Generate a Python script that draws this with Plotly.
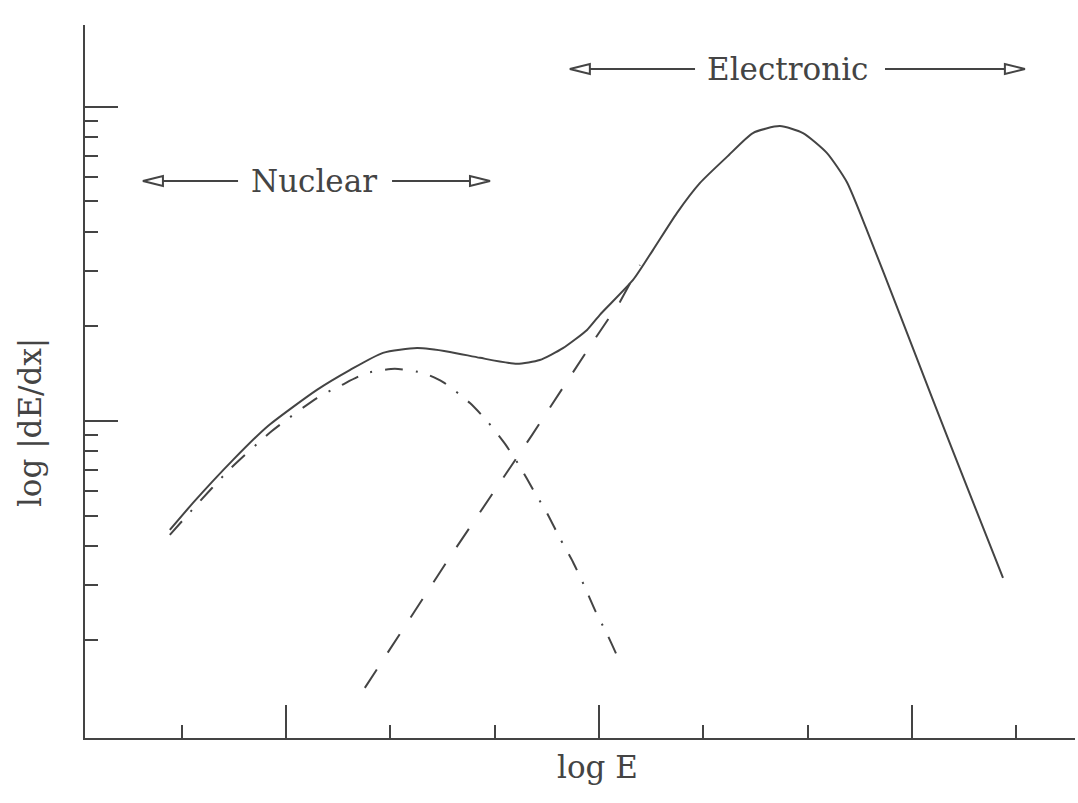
import math
import plotly.graph_objects as go

# log E (axis units, major ticks at 1, 2, 3)
total_x = [0.629, 0.703, 0.831, 0.939, 1.099, 1.204, 1.310, 1.419, 1.524, 1.620,
           1.738, 1.811, 1.885, 1.962, 2.003, 2.109, 2.173, 2.249, 2.323, 2.409,
           2.492, 2.578, 2.652, 2.728, 2.792, 2.856, 2.962, 3.067, 3.176, 3.291]
# log |dE/dx|
total_y = [-0.347, -0.261, -0.124, -0.019, 0.099, 0.162, 0.217, 0.232, 0.220, 0.201,
           0.182, 0.194, 0.232, 0.290, 0.338, 0.449, 0.545, 0.662, 0.758, 0.841,
           0.917, 0.939, 0.917, 0.854, 0.761, 0.608, 0.338, 0.067, -0.210, -0.500]

nuclear_x = [0.629, 0.703, 0.821, 0.955, 1.099, 1.179, 1.259, 1.348, 1.438, 1.502,
             1.588, 1.645, 1.700, 1.748, 1.792, 1.834, 1.875, 1.917, 1.955, 1.990,
             2.029, 2.067]
nuclear_y = [-0.363, -0.280, -0.153, -0.032, 0.073, 0.115, 0.153, 0.166, 0.153, 0.124,
             0.057, -0.003, -0.073, -0.146, -0.223, -0.293, -0.373, -0.449, -0.529, -0.608,
             -0.685, -0.768]

electronic_x = [1.252, 1.524, 1.786, 1.978, 2.067, 2.131]
electronic_y = [-0.850, -0.433, -0.045, 0.248, 0.379, 0.497]

x_major = [1, 2, 3]
x_minor = [2 / 3, 4 / 3, 5 / 3, 7 / 3, 8 / 3, 10 / 3]
y_major = [0, 1]
y_minor = [d + math.log10(k) for d in (-1, 0) for k in range(2, 10)]

region_labels = ["Nuclear", "Electronic"]
region_start = [0.543, 1.907]
region_end = [1.652, 3.361]
region_level = [0.764, 1.121]
region_text_x = [1.089, 2.604]
region_gap = [(0.847, 1.339), (2.307, 2.914)]

INK = "#444444"
FONT = "DejaVu Serif"

fig = go.Figure()
fig.add_trace(go.Scatter(x=total_x, y=total_y, mode="lines",
                         line=dict(color=INK, width=2, shape="spline", smoothing=0.6),
                         hoverinfo="skip"))
fig.add_trace(go.Scatter(x=nuclear_x, y=nuclear_y, mode="lines",
                         line=dict(color=INK, width=2, shape="spline", smoothing=0.6,
                                   dash="18px,13px,2px,13px"),
                         hoverinfo="skip"))
fig.add_trace(go.Scatter(x=electronic_x, y=electronic_y, mode="lines",
                         line=dict(color=INK, width=2, dash="22px,20px"),
                         hoverinfo="skip"))

shapes = []
head_len = 0.064
head_h = 0.016
for lab, x0, x1, yv, tx, (g0, g1) in zip(region_labels, region_start, region_end,
                                         region_level, region_text_x, region_gap):
    shapes.append(dict(type="line", x0=x0 + head_len, x1=g0, y0=yv, y1=yv,
                       line=dict(color=INK, width=2)))
    shapes.append(dict(type="line", x0=g1, x1=x1 - head_len, y0=yv, y1=yv,
                       line=dict(color=INK, width=2)))
    shapes.append(dict(type="path",
                       path=f"M {x0},{yv} L {x0 + head_len},{yv + head_h} L {x0 + head_len},{yv - head_h} Z",
                       line=dict(color=INK, width=2), fillcolor="white"))
    shapes.append(dict(type="path",
                       path=f"M {x1},{yv} L {x1 - head_len},{yv + head_h} L {x1 - head_len},{yv - head_h} Z",
                       line=dict(color=INK, width=2), fillcolor="white"))
    fig.add_annotation(x=tx, y=yv, text=lab, showarrow=False,
                       font=dict(family=FONT, size=31, color=INK),
                       xanchor="center", yanchor="middle")

fig.add_annotation(text="log E", xref="paper", yref="paper", x=0.518, y=-0.041,
                   showarrow=False, xanchor="center", yanchor="middle",
                   font=dict(family=FONT, size=31, color=INK))
fig.add_annotation(text="log |dE/dx|", xref="paper", yref="paper", x=-0.0556, y=0.443,
                   showarrow=False, textangle=-90, xanchor="center", yanchor="middle",
                   font=dict(family=FONT, size=31, color=INK))

fig.update_layout(
    width=1078, height=803,
    margin=dict(l=85, r=3, t=25, b=65),
    paper_bgcolor="white", plot_bgcolor="white",
    showlegend=False,
    shapes=shapes,
    xaxis=dict(range=[0.358, 3.521], showgrid=False, zeroline=False,
               showline=True, linecolor=INK, linewidth=2,
               tickmode="array", tickvals=x_major, showticklabels=False,
               ticks="inside", ticklen=33, tickwidth=2, tickcolor=INK,
               minor=dict(tickmode="array", tickvals=x_minor, ticks="inside",
                          ticklen=13, tickwidth=2, tickcolor=INK, showgrid=False)),
    yaxis=dict(range=[-1.0096, 1.261], showgrid=False, zeroline=False,
               showline=True, linecolor=INK, linewidth=2,
               tickmode="array", tickvals=y_major, showticklabels=False,
               ticks="inside", ticklen=33, tickwidth=2, tickcolor=INK,
               minor=dict(tickmode="array", tickvals=y_minor, ticks="inside",
                          ticklen=13, tickwidth=2, tickcolor=INK, showgrid=False)),
)

fig.write_html("out.html")
